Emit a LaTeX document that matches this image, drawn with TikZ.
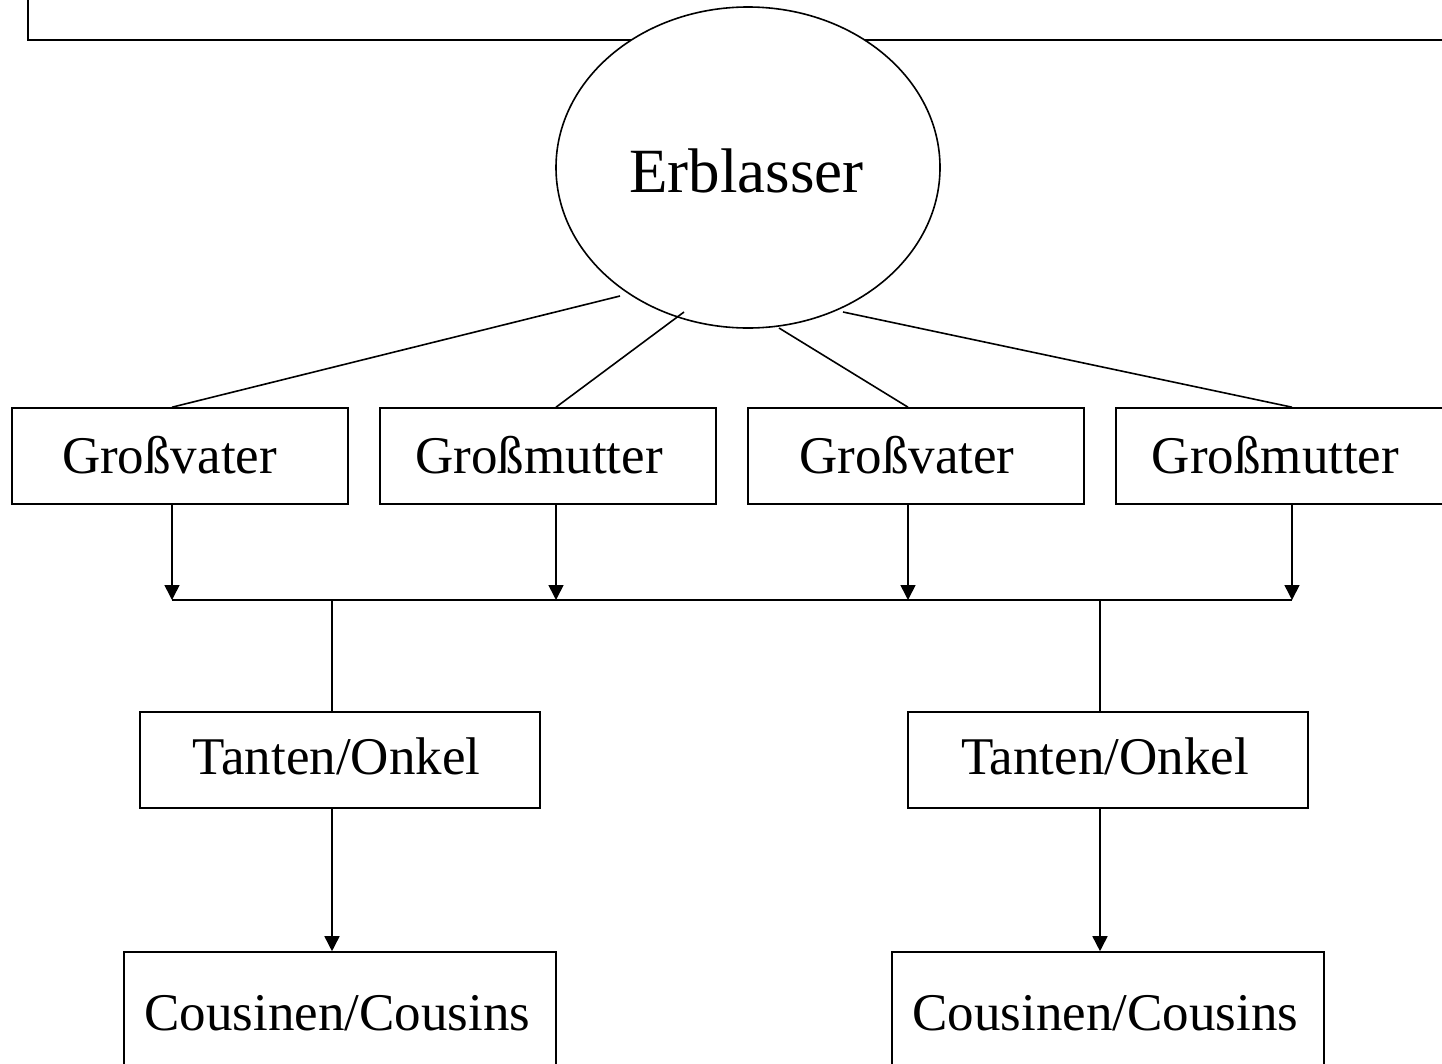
\documentclass[tikz,border=0pt]{standalone}
\usepackage{fontspec}
\setmainfont{Liberation Serif}
\usetikzlibrary{shapes.geometric,arrows.meta,calc}
\tikzset{
  ln/.style={line width=1.6pt, black},
  arr/.style={ln, -{Triangle[length=15pt,width=15pt]}},
  box/.style={draw, line width=1.6pt, rectangle, inner sep=0pt, fill=white},
  lbl/.style={inner sep=0pt, anchor=base, font=\fontsize{53}{60}\selectfont},
  erbl/.style={draw, line width=1.6pt, ellipse, inner sep=0pt, fill=white,
    minimum width=384pt, minimum height=321pt}
}
\begin{document}
\begin{tikzpicture}[x=1pt,y=-1pt]
\useasboundingbox (0,0) rectangle (1442,1063);
% partly visible top frame
\draw[ln] (28,-60) rectangle (1480,40);
% testator
\node[erbl] (erb) at (748,167.5) {};
\node[inner sep=0pt, anchor=base, font=\fontsize{63}{70}\selectfont] (erbt) at (746.5,192) {Erblasser};
% grandparents
\node[box, minimum width=336pt, minimum height=96pt] (gv1) at (180,456) {};
\node[box, minimum width=336pt, minimum height=96pt] (gm1) at (548,456) {};
\node[box, minimum width=336pt, minimum height=96pt] (gv2) at (916,456) {};
\node[box, minimum width=336pt, minimum height=96pt] (gm2) at (1284,456) {};
\node[lbl] (gv1t) at (169.5,473) {Großvater};
\node[lbl] (gm1t) at (539,473) {Großmutter};
\node[lbl] (gv2t) at (907,473) {Großvater};
\node[lbl] (gm2t) at (1275.5,473) {Großmutter};
% aunts/uncles
\node[box, minimum width=400pt, minimum height=96pt] (tu1) at (340,760) {};
\node[box, minimum width=400pt, minimum height=96pt] (tu2) at (1108,760) {};
\node[lbl] (tu1t) at (336.5,774) {Tanten/Onkel};
\node[lbl] (tu2t) at (1105,774) {Tanten/Onkel};
% cousins
\node[box, minimum width=432pt, minimum height=140pt] (co1) at (340,1022) {};
\node[box, minimum width=432pt, minimum height=140pt] (co2) at (1108,1022) {};
\node[lbl] (co1t) at (337.5,1030) {Cousinen/Cousins};
\node[lbl] (co2t) at (1105.5,1030) {Cousinen/Cousins};
% junction coordinates
\coordinate (j1) at (172,600);
\coordinate (j2) at (556,600);
\coordinate (j3) at (908,600);
\coordinate (j4) at (1292,600);
\coordinate (k1) at (332,600);
\coordinate (k2) at (1100,600);
% lines from grandparents to testator
\draw[ln] (gv1.north -| j1) -- ($(erb.center)+(-128,128.5)$);
\draw[ln] (gm1.north -| j2) -- ($(erb.center)+(-64,144.5)$);
\draw[ln] (gv2.north -| j3) -- ($(erb.center)+(31,160.5)$);
\draw[ln] (gm2.north -| j4) -- ($(erb.center)+(95,144.5)$);
% arrows down to bar
\draw[arr] (gv1.south -| j1) -- (j1);
\draw[arr] (gm1.south -| j2) -- (j2);
\draw[arr] (gv2.south -| j3) -- (j3);
\draw[arr] (gm2.south -| j4) -- (j4);
\draw[ln] (j1) -- (j4);
% drops to aunts/uncles
\draw[ln] (k1) -- (k1 |- tu1.north);
\draw[ln] (k2) -- (k2 |- tu2.north);
% arrows to cousins
\draw[arr] (tu1.south -| k1) -- (k1 |- co1.north);
\draw[arr] (tu2.south -| k2) -- (k2 |- co2.north);
\end{tikzpicture}
\end{document}
